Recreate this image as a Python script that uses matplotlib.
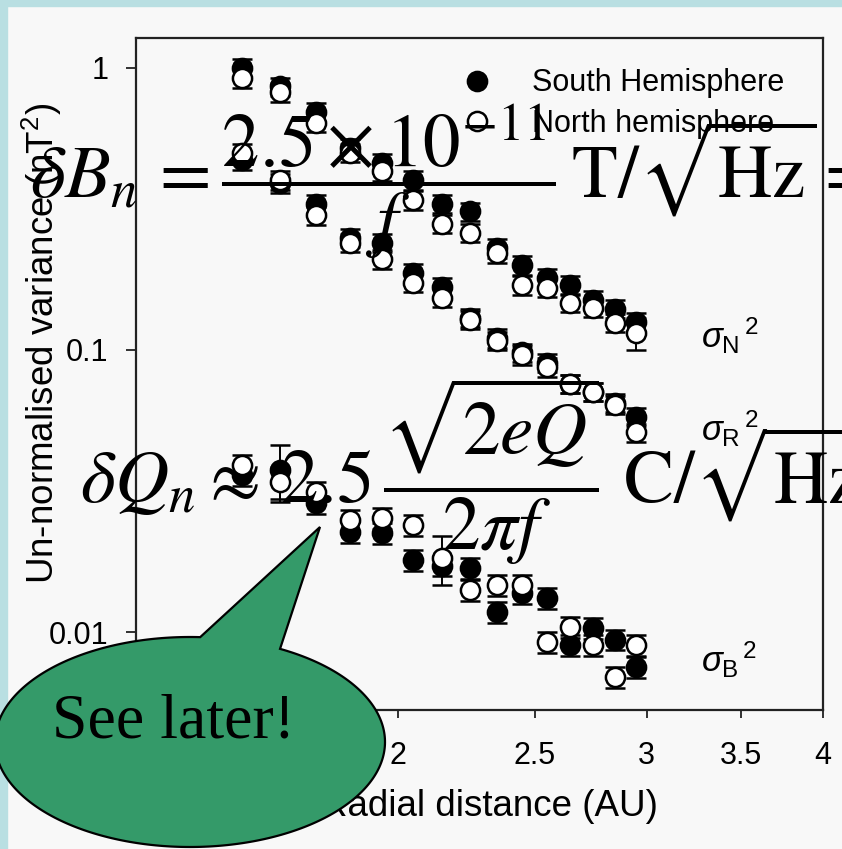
import numpy as np
import matplotlib
matplotlib.use("Agg")
import matplotlib.pyplot as plt
from matplotlib.lines import Line2D
from matplotlib.path import Path
from matplotlib.patches import PathPatch, Rectangle

plt.rcParams['font.family'] = ['Liberation Sans', 'DejaVu Sans']
plt.rcParams['mathtext.fontset'] = 'custom'
plt.rcParams['mathtext.rm'] = 'Liberation Sans'
plt.rcParams['mathtext.it'] = 'Liberation Sans:italic'
plt.rcParams['mathtext.sf'] = 'Liberation Sans'

# ---- data: un-normalised variances versus heliocentric distance ----
radial_au = [1.55, 1.65, 1.75, 1.85, 1.95, 2.05, 2.15, 2.25,
             2.35, 2.45, 2.55, 2.65, 2.75, 2.85, 2.95]

sigN_south = [1.00, 0.86, 0.70, 0.52, 0.46, 0.40, 0.33, 0.31,
              0.23, 0.20, 0.18, 0.17, 0.15, 0.14, 0.126]
sigN_north = [0.92, 0.82, 0.64, 0.50, 0.43, 0.34, 0.28, 0.26,
              0.22, 0.17, 0.166, 0.147, 0.141, 0.125, 0.115]

sigR_south = [0.47, 0.39, 0.33, 0.25, 0.24, 0.188, 0.167, 0.13,
              0.11, 0.098, 0.09, 0.076, 0.071, 0.065, 0.058]
sigR_north = [0.50, 0.40, 0.30, 0.24, 0.21, 0.173, 0.153, 0.128,
              0.108, 0.096, 0.087, 0.076, 0.071, 0.064, 0.051]

sigB_south = [0.036, 0.0375, 0.0287, 0.0226, 0.0224, 0.018, 0.0172, 0.0169,
              0.0118, 0.0137, 0.0132, 0.0090, 0.0103, 0.0094, 0.0075]
sigB_north = [0.039, 0.034, 0.0314, 0.025, 0.0254, 0.024, 0.0183, 0.0141,
              0.0147, 0.0147, 0.0092, 0.0104, 0.0090, 0.0069, 0.0090]

# fractional 1-sigma uncertainties
sigN_south_err = [0.075] * 15
sigN_north_err = [0.075] * 14 + [0.13]
sigR_south_err = [0.075] * 15
sigR_north_err = [0.075] * 15
sigB_south_err = [0.085, 0.23] + [0.085] * 13
sigB_north_err = [0.085, 0.13, 0.085, 0.085, 0.085, 0.085, 0.20, 0.085,
                  0.085, 0.085, 0.085, 0.085, 0.085, 0.085, 0.085]

x_ticks = [1.5, 2, 2.5, 3, 3.5, 4]
x_ticklabels = ['1.5', '2', '2.5', '3', '3.5', '4']
y_ticks = [0.01, 0.1, 1]
y_ticklabels = ['0.01', '0.1', '1']

W, H = 842, 849
fig = plt.figure(figsize=(W / 100, H / 100), dpi=100, facecolor='#f8f8f8')

# slide border strips
fig.add_artist(Rectangle((0, 1 - 6 / H), 1, 6 / H, transform=fig.transFigure,
                         color='#b9dfe2', zorder=0))
fig.add_artist(Rectangle((0, 0), 7 / W, 1, transform=fig.transFigure,
                         color='#b9dfe2', zorder=0))

ax = fig.add_axes([136 / W, 1 - 710 / H, 687 / W, 672 / H])
ax.set_facecolor('#f8f8f8')
ax.set_xscale('log')
ax.set_yscale('log')
ax.set_xlim(1.305, 4.0)
ax.set_ylim(0.00529, 1.277)

ms, mew, cap = 13.8, 1.8, 7


def draw(vals, errs, filled):
    v = np.asarray(vals)
    e = v * np.asarray(errs)
    ax.errorbar(radial_au, v, yerr=e, fmt='o', ms=ms, mew=mew,
                mfc='black' if filled else 'white', mec='black',
                ecolor='black', elinewidth=1.4, capsize=cap, capthick=1.4,
                zorder=3 if filled else 4)


for s, se, n, ne in [(sigN_south, sigN_south_err, sigN_north, sigN_north_err),
                     (sigR_south, sigR_south_err, sigR_north, sigR_north_err),
                     (sigB_south, sigB_south_err, sigB_north, sigB_north_err)]:
    draw(s, se, True)
    draw(n, ne, False)

ax.set_xticks(x_ticks)
ax.set_xticklabels(x_ticklabels)
ax.set_yticks(y_ticks)
ax.set_yticklabels(y_ticklabels)
ax.minorticks_off()
ax.tick_params(axis='both', direction='out', width=1.3, labelsize=22,
               color='#222222')
ax.tick_params(axis='x', length=6, pad=16)
ax.tick_params(axis='y', length=7, pad=13)
for sp in ax.spines.values():
    sp.set_linewidth(1.6)
    sp.set_color('#222222')

ax.set_xlabel('Radial distance (AU)', fontsize=26.5)
ax.xaxis.set_label_coords(0.515, -0.117)
ax.set_ylabel('Un-normalised variance (nT$^2$)', fontsize=26.5)
ax.yaxis.set_label_coords(-0.105, 0.545)

# component labels
ax.text(0.822, 0.556, r'$\sigma_{\mathrm{N}}{}^{\,2}$', transform=ax.transAxes,
        fontsize=25, va='center', ha='left')
ax.text(0.822, 0.418, r'$\sigma_{\mathrm{R}}{}^{\,2}$', transform=ax.transAxes,
        fontsize=25, va='center', ha='left')
ax.text(0.822, 0.074, r'$\sigma_{\mathrm{B}}{}^{\,2}$', transform=ax.transAxes,
        fontsize=25, va='center', ha='left')

handles = [Line2D([], [], marker='o', ls='none', ms=ms, mfc='black', mec='black', mew=mew),
           Line2D([], [], marker='o', ls='none', ms=ms, mfc='white', mec='black', mew=mew)]
ax.legend(handles, ['South Hemisphere', 'North hemisphere'], loc='upper left',
          bbox_to_anchor=(0.4745, 0.955), frameon=False, fontsize=22,
          handlelength=1.0, handletextpad=1.29, labelspacing=0.35,
          borderaxespad=0, borderpad=0)

# overlay in pixel coordinates for the equations and the callout
ov = fig.add_axes([0, 0, 1, 1], zorder=10)
ov.set_xlim(0, W)
ov.set_ylim(H, 0)
ov.axis('off')

ov.text(30, 198,
        r'$\delta B_n\, = \dfrac{2.5\times10^{-11}}{f}\,\mathrm{T}/\sqrt{\mathrm{Hz}} =$',
        fontsize=54, math_fontfamily='stix', va='baseline', ha='left')
ov.text(80, 503,
        r'$\delta Q_n \approx\, 2.5\,\dfrac{\sqrt{2eQ}}{2\pi f}\ \mathrm{C}/\sqrt{\mathrm{Hz}}$',
        fontsize=54, math_fontfamily='stix', va='baseline', ha='left')

# speech bubble
cx, cy, a, b = 190, 742, 195, 105
t_left, t_right = np.deg2rad(87), np.deg2rad(62.5)
tip = (320, 527)
ts = np.linspace(t_left, t_right + 2 * np.pi, 300)
ell = np.column_stack([cx + a * np.cos(ts), cy - b * np.sin(ts)])
verts = np.vstack([[tip], ell, [tip]])
codes = [Path.MOVETO] + [Path.LINETO] * (len(verts) - 2) + [Path.CLOSEPOLY]
ov.add_patch(PathPatch(Path(verts, codes), facecolor='#349a69',
                       edgecolor='black', linewidth=1.6, zorder=5))
ov.text(173, 737, 'See later!', fontsize=46, family='Liberation Serif',
        ha='center', va='baseline', zorder=6)

fig.savefig('out.png', dpi=100, facecolor=fig.get_facecolor())
